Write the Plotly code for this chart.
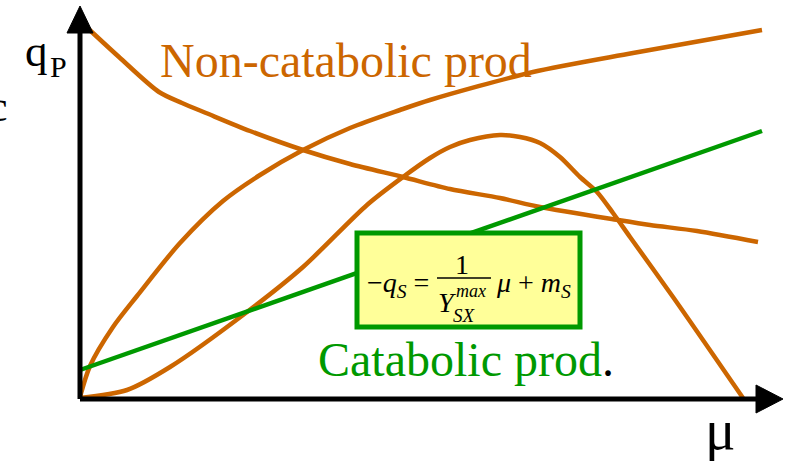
import plotly.graph_objects as go

# ---- data (arbitrary units: mu on x, specific rate on y) ----
noncat_mu = [0, 0.39, 0.79, 1.02, 1.26, 1.70, 2.23, 2.70, 3.23, 3.70, 4.20, 4.60, 5.38, 5.70, 6.17, 6.78]
noncat_q = [3.78, 3.42, 3.07, 2.96, 2.86, 2.68, 2.49, 2.35, 2.22, 2.10, 2.01, 1.92, 1.79, 1.74, 1.68, 1.57]

sat_mu = [0, 0.10, 0.33, 0.57, 1.00, 1.43, 1.80, 2.23, 2.70, 3.20, 3.50, 4.53, 5.53, 6.82]
sat_q = [0.02, 0.33, 0.72, 1.03, 1.56, 1.98, 2.24, 2.49, 2.71, 2.89, 2.99, 3.27, 3.46, 3.69]

hump_mu = [0, 0.47, 0.90, 1.67, 2.23, 2.87, 3.23, 3.50, 3.70, 3.90, 4.20, 4.40, 4.60, 4.80,
           5.00, 5.17, 5.33, 5.50, 5.93, 6.63]
hump_q = [0.01, 0.09, 0.32, 0.87, 1.32, 1.94, 2.22, 2.41, 2.52, 2.59, 2.64, 2.62, 2.56, 2.42,
          2.22, 2.07, 1.86, 1.62, 1.02, 0.01]

cat_mu = [0, 6.82]
cat_q = [0.29, 2.68]

ORANGE = "#CC6600"
GREEN = "#009900"
SERIF = "Liberation Serif, Times New Roman, serif"

W, H = 785, 461
OX, OY, S = 80, 399, 100.0


def px(x):
    return (x - OX) / S


def py(y):
    return (OY - y) / S


fig = go.Figure()
for xs, ys, col in [(noncat_mu, noncat_q, ORANGE), (sat_mu, sat_q, ORANGE),
                    (hump_mu, hump_q, ORANGE), (cat_mu, cat_q, GREEN)]:
    fig.add_trace(go.Scatter(x=xs, y=ys, mode="lines",
                             line=dict(color=col, width=4.5, shape="spline", smoothing=0.8),
                             hoverinfo="skip", showlegend=False))

shapes = []
# axes with arrowheads
shapes.append(dict(type="line", x0=0, y0=0, x1=0, y1=py(32), line=dict(color="black", width=5)))
shapes.append(dict(type="line", x0=0, y0=0, x1=px(757), y1=0, line=dict(color="black", width=5)))
shapes.append(dict(type="path",
                   path=f"M {px(80)},{py(6)} L {px(67)},{py(33)} L {px(93)},{py(33)} Z",
                   fillcolor="black", line=dict(color="black", width=1)))
shapes.append(dict(type="path",
                   path=f"M {px(783)},{py(399)} L {px(756)},{py(385)} L {px(756)},{py(413)} Z",
                   fillcolor="black", line=dict(color="black", width=1)))
# formula box
shapes.append(dict(type="rect", x0=px(357), y0=py(233), x1=px(580), y1=py(327),
                   fillcolor="#FFFF99", line=dict(color=GREEN, width=5), layer="above"))
# fraction bar
shapes.append(dict(type="line", x0=px(437), y0=py(278), x1=px(491), y1=py(278),
                   line=dict(color="black", width=1.5), layer="above"))

ann = []


def txt(text, x, y, size, color="black", xanchor="left", yanchor="middle"):
    ann.append(dict(text=text, x=px(x), y=py(y), xref="x", yref="y", showarrow=False,
                    xanchor=xanchor, yanchor=yanchor,
                    font=dict(family=SERIF, size=size, color=color)))


txt("q", 23, 51, 45)
txt("P", 48, 66, 30)
txt("c", 10, 106, 44, xanchor="right")
txt("Non-catabolic prod", 158, 60, 48, color=ORANGE)
txt("Catabolic prod<span style='color:black'>.</span>", 316, 359, 48, color=GREEN)
txt("μ", 720, 429, 57, xanchor="center")

# formula
txt("−<i>q<sub>S</sub></i> =", 431, 284, 28, xanchor="right")
txt("1", 462, 264, 28, xanchor="center")
txt("<i>Y</i>", 447, 302, 28, xanchor="center")
txt("<i>max</i>", 454, 291, 18)
txt("<i>SX</i>", 451, 315, 19)
txt("<i>μ</i> + <i>m<sub>S</sub></i>", 494, 284, 28)

fig.update_layout(
    width=W, height=H,
    margin=dict(l=0, r=0, t=0, b=0),
    paper_bgcolor="white", plot_bgcolor="white",
    xaxis=dict(range=[px(0), px(W)], visible=False, fixedrange=True),
    yaxis=dict(range=[py(H), py(0)], visible=False, fixedrange=True),
    shapes=shapes, annotations=ann,
)

fig.write_html("out.html", config={"displayModeBar": False},
               post_script="document.body.style.margin='0px';document.body.style.padding='0px';")
